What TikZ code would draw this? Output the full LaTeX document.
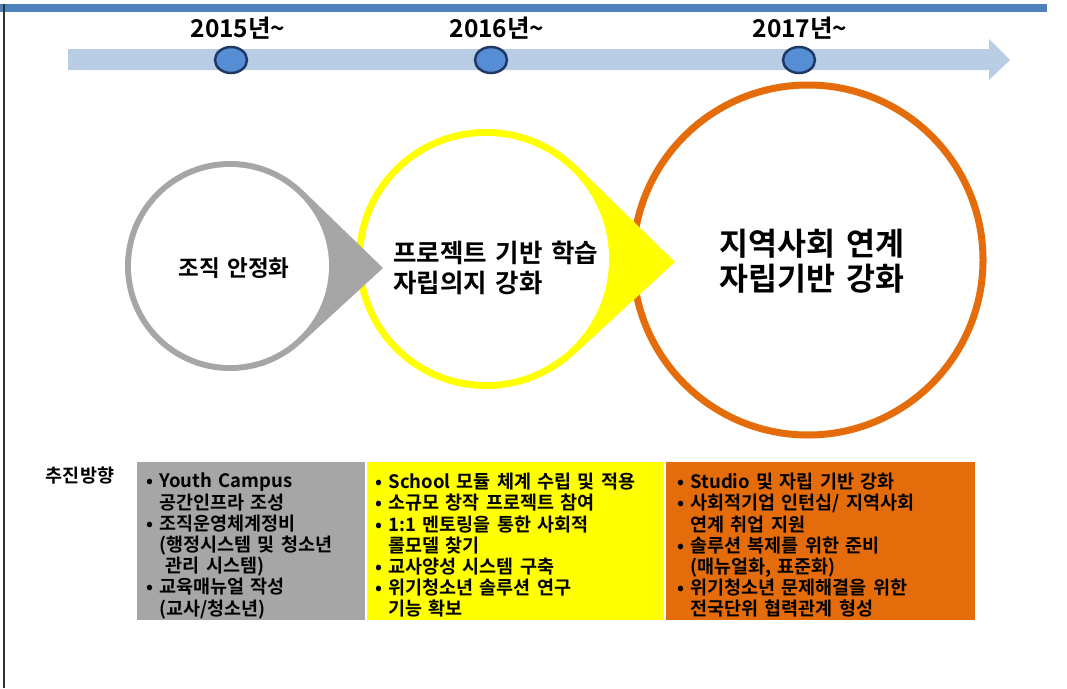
\documentclass[tikz,border=0pt]{standalone}
\usepackage{fontspec}
\setmainfont{Noto Sans CJK KR}[BoldFont={Noto Sans CJK KR Bold}, WordSpace=1.5]
\usetikzlibrary{calc,shapes.geometric}

\definecolor{topblue}{HTML}{4F81BD}
\definecolor{lineblue}{HTML}{B9CDE5}
\definecolor{dotblue}{HTML}{558ED5}
\definecolor{dotedge}{HTML}{1F3864}
\definecolor{stagegray}{HTML}{A6A6A6}
\definecolor{stageyellow}{HTML}{FFFF00}
\definecolor{stageorange}{HTML}{E46C0A}

\tikzset{
  yearlabel/.style = {font=\bfseries\fontsize{24.5}{28}\selectfont},
  dot/.style       = {ellipse, minimum width=32pt, minimum height=26pt,
                      fill=dotblue, draw=dotedge, line width=2.5pt, inner sep=0pt},
  disc/.style      = {circle, inner sep=0pt, outer sep=0pt},
  box/.style       = {rectangle, anchor=north west, inner sep=0pt,
                      minimum height=158pt},
  boxtext/.style   = {anchor=north west, align=left, inner sep=0pt,
                      font=\bfseries\fontsize{18.5}{21.2}\selectfont}
}

\newcommand{\hang}{\phantom{• }}

\begin{document}
\begin{tikzpicture}[x=1pt, y=-1pt]
  \useasboundingbox (0,0) rectangle (1067,688);

  % page frame
  \fill[topblue] (0,4) rectangle (1047,12);
  \draw[line width=1.5pt, black!80] (4,4) -- (4,688);

  % time line
  \fill[lineblue] (68,49) -- (989,49) -- (989,39) -- (1010,60)
                  -- (989,80) -- (989,70) -- (68,70) -- cycle;
  \node[dot] (d1) at (231,60) {};
  \node[dot] (d2) at (491,60) {};
  \node[dot] (d3) at (799,60) {};
  \node[yearlabel] (y1) at (238,28) {2015년\string~};
  \node[yearlabel] (y2) at (497,28) {2016년\string~};
  \node[yearlabel] (y3) at (800,28) {2017년\string~};

  % stage 3
  \node[disc, minimum size=350pt, draw=stageorange, line width=7pt,
        fill=white] (c3) at (808,260) {};

  % stage 2
  \coordinate (t2) at (675,262);
  \node[disc, minimum size=260pt, fill=stageyellow] (c2) at (486,259) {};
  \fill[stageyellow] (t2) -- (tangent cs:node=c2,point={(t2)},solution=1)
        -- (c2.center) -- (tangent cs:node=c2,point={(t2)},solution=2) -- cycle;
  \node[disc, minimum size=246pt, fill=white] at (c2) {};

  % stage 1
  \coordinate (t1) at (383,268);
  \node[disc, minimum size=210pt, fill=stagegray] (c1) at (230,266) {};
  \fill[stagegray] (t1) -- (tangent cs:node=c1,point={(t1)},solution=1)
        -- (c1.center) -- (tangent cs:node=c1,point={(t1)},solution=2) -- cycle;
  \node[disc, minimum size=198pt, fill=white] at (c1) {};

  \node[font=\bfseries\fontsize{22.5}{26}\selectfont] (s1) at (234,268) {조직 안정화};
  \node[anchor=west, align=left, inner sep=0pt,
        font=\bfseries\fontsize{25.5}{30}\selectfont] (s2) at (393,268)
        {프로젝트 기반 학습\\자립의지 강화};
  \node[align=left, font=\bfseries\fontsize{31.5}{35}\selectfont] (s3) at (812,261)
        {지역사회 연계\\자립기반 강화};

  % direction table
  \node[font=\bfseries\fontsize{18.5}{20}\selectfont] (dir) at (80,476) {추진방향};

  \node[box, fill=stagegray,   minimum width=228pt] (b1) at (137,462) {};
  \node[box, fill=stageyellow, minimum width=297pt] (b2) at (367,462) {};
  \node[box, fill=stageorange, minimum width=309pt] (b3) at (666,462) {};

  \node[boxtext] (p1) at (146,473) {%
    • Youth Campus\\
    \hang 공간인프라 조성\\
    • 조직운영체계정비\\
    \hang (행정시스템 및 청소년\\
    \hang\ 관리 시스템)\\
    • 교육매뉴얼 작성\\
    \hang (교사/청소년)};
  \node[boxtext] (p2) at (375,473) {%
    • School 모듈 체계 수립 및 적용\\
    • 소규모 창작 프로젝트 참여\\
    • 1:1 멘토링을 통한 사회적\\
    \hang 롤모델 찾기\\
    • 교사양성 시스템 구축\\
    • 위기청소년 솔루션 연구\\
    \hang 기능 확보};
  \node[boxtext] (p3) at (677,473) {%
    • Studio 및 자립 기반 강화\\
    • 사회적기업 인턴십/ 지역사회\\
    \hang 연계 취업 지원\\
    • 솔루션 복제를 위한 준비\\
    \hang (매뉴얼화, 표준화)\\
    • 위기청소년 문제해결을 위한\\
    \hang 전국단위 협력관계 형성};
\end{tikzpicture}
\end{document}
